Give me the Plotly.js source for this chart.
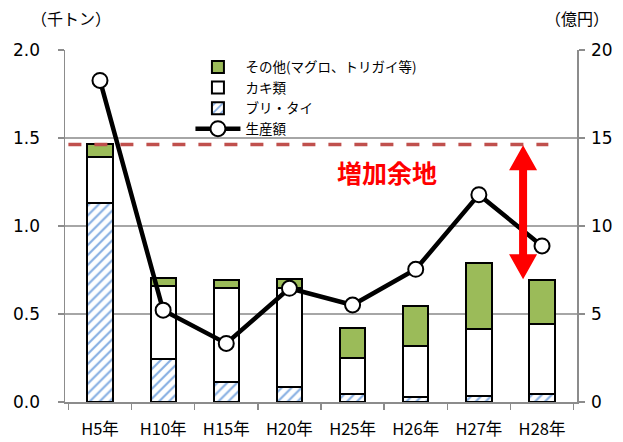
<!DOCTYPE html>
<html><head><meta charset="utf-8">
<script src="https://cdn.plot.ly/plotly-3.0.1.min.js"></script>
<style>html,body{margin:0;padding:0;background:#fff}#chart{width:623px;height:442px}</style>
</head><body><div id="chart"></div>
<script>
const categories = ["H5年","H10年","H15年","H20年","H25年","H26年","H27年","H28年"];
const buriTai = [1.13, 0.245, 0.112, 0.084, 0.046, 0.028, 0.036, 0.044];
const kaki    = [0.26, 0.416, 0.534, 0.566, 0.204, 0.291, 0.378, 0.399];
const other   = [0.077, 0.044, 0.047, 0.047, 0.17, 0.228, 0.376, 0.25];
const value   = [18.27, 5.22, 3.33, 6.46, 5.51, 7.54, 11.78, 8.87];
const targetLevel = 1.463;
const seriesNames = ["ブリ・タイ","カキ類","その他(マグロ、トリガイ等)","生産額"];

const jp = '"Noto Sans CJK JP", "DejaVu Sans", sans-serif';
const num = '"DejaVu Sans", Verdana, sans-serif';

const traces = [
  {type:'bar', name:seriesNames[0], x:categories, y:buriTai, width:0.4, legendrank:3,
   marker:{color:'#ffffff', line:{color:'#000', width:2},
     pattern:{shape:'/', fgcolor:'#86aee2', bgcolor:'#ffffff', size:7, solidity:0.3}}},
  {type:'bar', name:seriesNames[1], x:categories, y:kaki, width:0.4, legendrank:2,
   marker:{color:'#ffffff', line:{color:'#000', width:2}}},
  {type:'bar', name:seriesNames[2], x:categories, y:other, width:0.4, legendrank:1,
   marker:{color:'#9bbb59', line:{color:'#000', width:2}}},
  {type:'scatter', mode:'lines+markers', name:seriesNames[3], x:categories, y:value, yaxis:'y2', legendrank:4,
   line:{color:'#000', width:4.5},
   marker:{size:15, color:'#fff', line:{color:'#000', width:2}}}
];

const layout = {
  width:623, height:442,
  margin:{l:65, r:46, t:50, b:40},
  barmode:'stack',
  plot_bgcolor:'#fff', paper_bgcolor:'#fff',
  showlegend:true,
  legend:{x:0.245, y:0.995, xanchor:'left', yanchor:'top', bgcolor:'rgba(255,255,255,0)',
    traceorder:'normal',
    font:{family:jp, size:13.5, color:'#000'}, itemwidth:45, tracegroupgap:0},
  xaxis:{type:'category', showline:true, linecolor:'#8c8c8c', linewidth:1.5,
    ticks:'outside', tickson:'boundaries', ticklen:6, tickcolor:'#8c8c8c', tickwidth:1.5,
    tickfont:{family:jp, size:16.5, color:'#000'}, ticklabelstandoff:12, showgrid:false, mirror:false},
  yaxis:{range:[0,2.0], dtick:0.5, tickformat:'.1f', showline:true, linecolor:'#8c8c8c', linewidth:1.5,
    ticks:'outside', ticklen:6, tickcolor:'#8c8c8c', tickwidth:1.5,
    showgrid:true, gridcolor:'#a6a6a6', gridwidth:1.5, zeroline:false,
    tickfont:{family:num, size:17, color:'#000'}, ticklabelstandoff:14},
  yaxis2:{range:[0,20], dtick:5, overlaying:'y', side:'right', showline:true, linecolor:'#8c8c8c', linewidth:1.5,
    ticks:'outside', ticklen:6, tickcolor:'#8c8c8c', tickwidth:1.5, showgrid:false, zeroline:false,
    tickfont:{family:num, size:17, color:'#000'}, ticklabelstandoff:3},
  shapes:[
    {type:'line', xref:'x', yref:'y', x0:-0.5, x1:7.1, y0:targetLevel, y1:targetLevel,
     line:{color:'#c0504d', width:3.5, dash:'13px,13px'}},
    {type:'path', xref:'x', yref:'y', xsizemode:'pixel', ysizemode:'pixel', xanchor:6.7, yanchor:1.078,
     path:'M0,67 L14,42 L4,42 L4,-42 L14,-42 L0,-67 L-14,-42 L-4,-42 L-4,42 L-14,42 Z',
     fillcolor:'#ff0000', line:{width:0}}
  ],
  annotations:[
    {text:'（千トン）', xref:'paper', yref:'paper', x:0.012, y:1.0, xanchor:'center', yanchor:'middle', yshift:32, showarrow:false,
     font:{family:jp, size:16, color:'#000'}},
    {text:'（億円）', xref:'paper', yref:'paper', x:1.0, y:1.0, xanchor:'center', yanchor:'middle', yshift:32, showarrow:false,
     font:{family:jp, size:16, color:'#000'}},
    {text:'<b>増加余地</b>', xref:'paper', yref:'paper', x:0.629, y:0.652, xanchor:'center', showarrow:false,
     font:{family:jp, size:25, color:'#ff0000'}}
  ]
};

Plotly.newPlot('chart', traces, layout, {displayModeBar:false, staticPlot:true});
</script></body></html>
